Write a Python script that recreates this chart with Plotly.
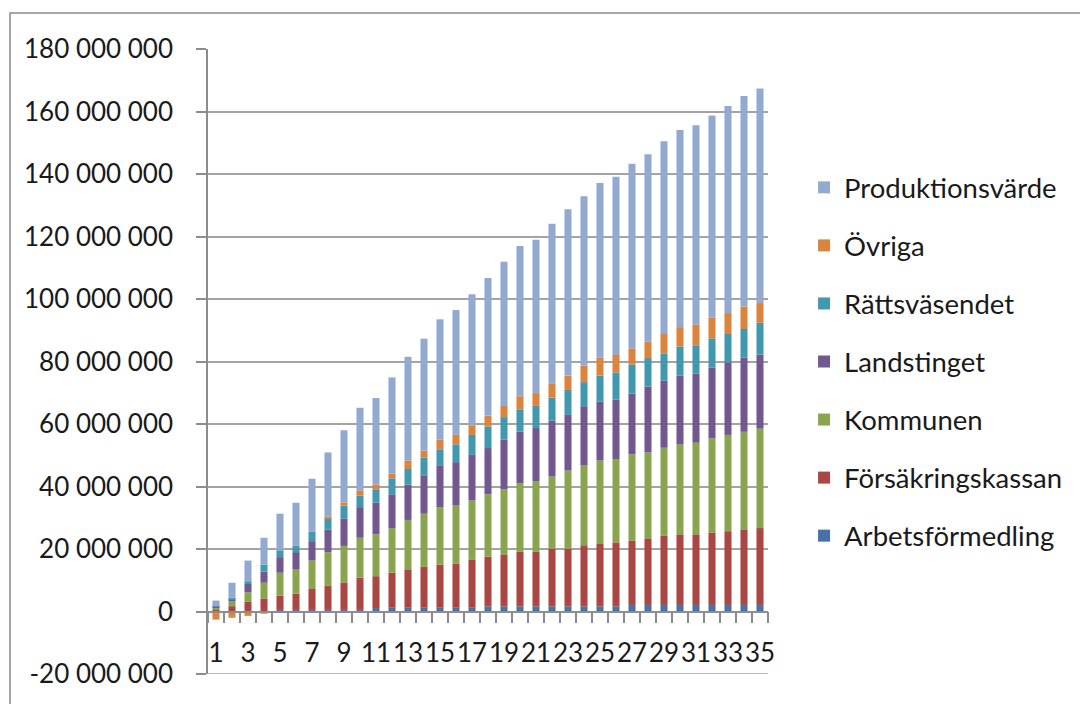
import plotly.graph_objects as go

# Periods 1..35 on the category axis
periods = [str(i) for i in range(1, 36)]
period_labels = ["1", "", "3", "", "5", "", "7", "", "9", "", "11", "", "13", "", "15", "", "17", "",
                 "19", "", "21", "", "23", "", "25", "", "27", "", "29", "", "31", "", "33", "", "35"]

# Values per actor, in millions (SEK)
arbetsformedling = [0.1, 0.1, 0.1, 0.1, 0.5, 0.5, 0.5, 0.5, 0.5, 0.5, 1.1, 1.2, 1.2, 1.2, 1.2, 1.2, 1.2, 1.6,
                    1.6, 1.6, 1.6, 1.6, 1.6, 1.6, 1.6, 1.6, 2.1, 2.1, 2.1, 2.1, 2.1, 2.1, 2.1, 2.1, 2.1]
forsakringskassan = [0.55, 1.6, 3.0, 4.1, 4.6, 5.2, 6.7, 7.7, 8.8, 10.3, 10.2, 11.2, 12.3, 13.2, 13.8, 14.2, 15.3, 15.9,
                     16.5, 17.5, 17.5, 18.5, 18.4, 19.6, 20.0, 20.5, 20.5, 21.1, 22.1, 22.6, 22.6, 23.2, 23.6, 24.2, 24.6]
kommunen = [0.55, 1.5, 3.1, 5.0, 7.3, 7.7, 9.1, 10.8, 11.7, 12.8, 13.4, 14.3, 15.8, 16.9, 18.4, 18.5, 19.0, 20.0,
            21.0, 22.0, 22.6, 23.1, 25.1, 25.5, 26.7, 26.7, 27.7, 27.7, 28.2, 28.7, 29.3, 30.1, 30.8, 31.2, 31.8]
landstinget = [0.4, 0.7, 2.6, 3.6, 5.0, 5.6, 6.2, 7.2, 8.8, 9.8, 10.2, 10.8, 11.3, 12.3, 13.4, 13.9, 14.8, 14.8,
               15.9, 16.5, 17.0, 17.9, 18.0, 19.0, 18.9, 19.0, 19.4, 21.1, 21.5, 22.1, 22.1, 22.7, 23.2, 23.7, 23.7]
rattsvasendet = [0.1, 0.5, 0.9, 2.2, 2.2, 2.0, 3.1, 3.7, 4.1, 3.7, 4.2, 5.1, 5.0, 5.7, 5.1, 5.7, 6.2, 6.8,
                 7.2, 7.1, 7.1, 7.3, 7.8, 7.7, 8.3, 8.7, 9.3, 9.1, 8.7, 9.3, 9.1, 9.3, 9.1, 9.2, 10.2]
ovriga = [-2.6, -2.0, -1.4, -0.7, 0.0, 0.0, 0.0, 0.4, 1.0, 1.5, 1.5, 1.5, 2.7, 2.2, 3.1, 3.0, 3.1, 3.6,
          3.6, 4.2, 4.1, 4.6, 4.6, 5.3, 5.7, 5.6, 5.2, 5.2, 6.2, 6.2, 6.6, 6.6, 6.7, 7.2, 6.3]
produktionsvarde = [1.8, 4.8, 6.6, 8.6, 11.7, 13.8, 16.9, 20.6, 23.1, 26.6, 27.7, 30.8, 33.2, 35.8, 38.5, 40.0, 41.9, 44.0,
                    46.1, 48.1, 49.1, 51.1, 53.2, 54.2, 55.9, 57.0, 59.1, 60.0, 61.7, 63.1, 63.8, 64.7, 66.3, 67.4, 68.7]

y_tick_values = [-20e6, 0, 20e6, 40e6, 60e6, 80e6, 100e6, 120e6, 140e6, 160e6, 180e6]
y_tick_labels = ["-20 000 000", "0", "20 000 000", "40 000 000", "60 000 000", "80 000 000",
                 "100 000 000", "120 000 000", "140 000 000", "160 000 000", "180 000 000"]

MILLION = 1e6

# Stacked bottom-to-top; legend lists them top-to-bottom in reverse
series = [
    ("Arbetsförmedling", arbetsformedling, "#4572A7"),
    ("Försäkringskassan", forsakringskassan, "#AA4643"),
    ("Kommunen", kommunen, "#89A54E"),
    ("Landstinget", landstinget, "#71588F"),
    ("Rättsväsendet", rattsvasendet, "#4198AF"),
    ("Övriga", ovriga, "#DB843D"),
    ("Produktionsvärde", produktionsvarde, "#93A9CF"),
]

AXIS_GREY = "#8c8c8c"
GRID_GREY = "#a3a3a3"

fig = go.Figure()
for i, (name, values, color) in enumerate(series):
    fig.add_trace(go.Bar(
        x=periods,
        y=[v * MILLION for v in values],
        name=name,
        legendgroup=name,
        legendrank=len(series) - i,
        marker=dict(color=color, line=dict(width=0)),
    ))

fig.update_layout(
    width=1080,
    height=704,
    margin=dict(l=208, r=312, t=49, b=30),
    paper_bgcolor="white",
    plot_bgcolor="white",
    barmode="relative",
    bargap=0.56,
    font=dict(family="Lato", size=26, color="#1a1a1a"),
    legend=dict(
        xref="container", yref="container",
        x=0.7445, y=0.7685, xanchor="left", yanchor="top",
        traceorder="grouped",
        tracegroupgap=19.3,
        maxheight=680,
        font=dict(size=27.5),
        bgcolor="rgba(0,0,0,0)",
    ),
    shapes=[
        # outer chart frame
        dict(type="rect", xref="paper", yref="paper",
             x0=-0.3536, x1=2, y0=-1, y1=1.0576,
             line=dict(color="#8a8a8a", width=1.5), layer="below"),
        # bottom edge of the plot area, at the lowest y tick
        dict(type="line", xref="paper", yref="y",
             x0=0, x1=1, y0=y_tick_values[0], y1=y_tick_values[0],
             line=dict(color=GRID_GREY, width=1.5), layer="below"),
    ],
)

fig.update_xaxes(
    type="category",
    categoryorder="array",
    categoryarray=periods,
    range=[-0.5, 34.5],
    tickmode="array",
    tickvals=periods,
    ticktext=period_labels,
    tickson="boundaries",
    ticks="outside",
    ticklen=11,
    tickwidth=1.5,
    tickcolor=AXIS_GREY,
    tickangle=0,
    ticklabelstandoff=19,
    showline=True,
    linecolor=AXIS_GREY,
    linewidth=1.5,
    showgrid=False,
    anchor="free",
    position=0.1,
)

fig.update_yaxes(
    range=[-20e6, 180e6],
    tickmode="array",
    tickvals=y_tick_values,
    ticktext=y_tick_labels,
    showgrid=True,
    gridcolor=GRID_GREY,
    gridwidth=1.5,
    zeroline=False,
    showline=True,
    linecolor=AXIS_GREY,
    linewidth=1.5,
    ticks="outside",
    ticklen=10,
    tickwidth=1.5,
    tickcolor=AXIS_GREY,
    ticklabelstandoff=18,
)

fig.write_html("out.html")
